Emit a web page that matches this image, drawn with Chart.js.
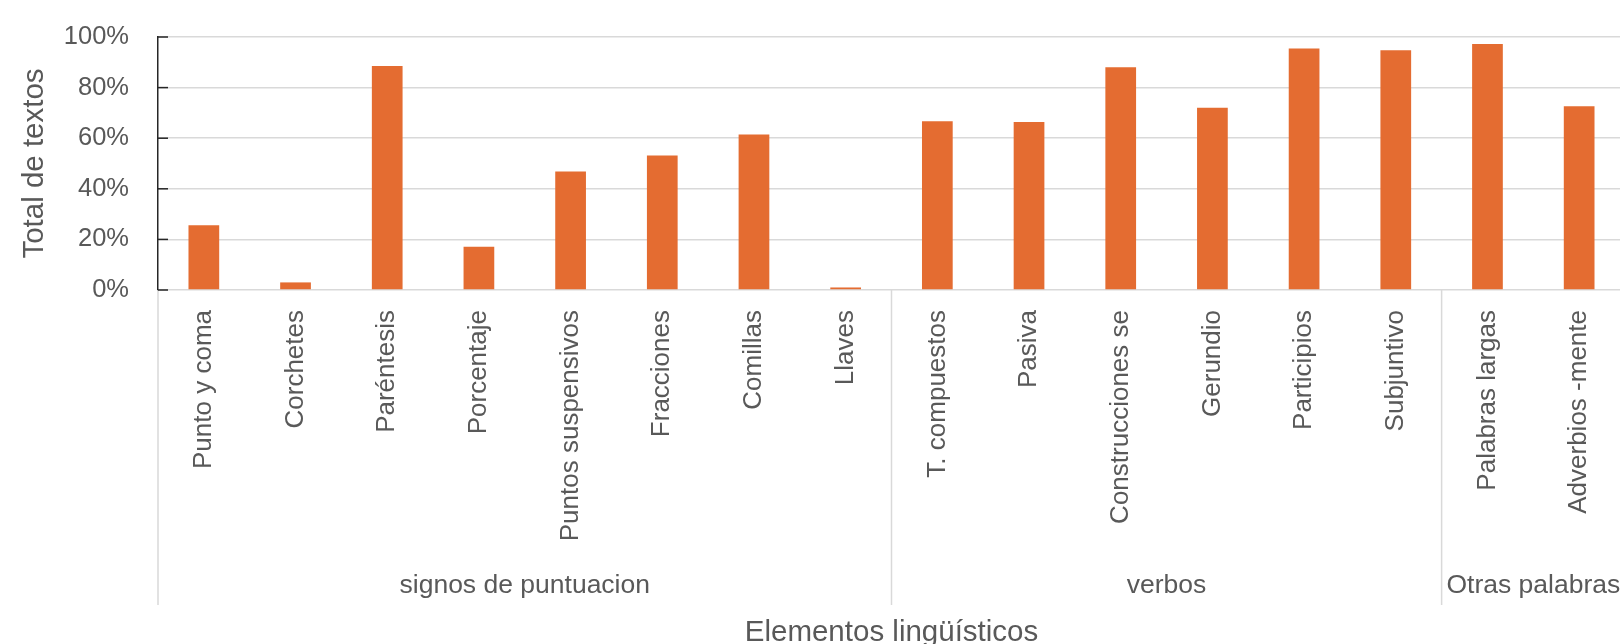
<html>
<head>
  <meta charset="utf-8"/>
  <title>Elementos lingüísticos</title>
  <script src="https://cdn.jsdelivr.net/npm/chart.js"></script>
  <style>
    html, body {
      margin: 0;
      padding: 0;
      background: #ffffff;
      width: 1620px;
      height: 644px;
      overflow: hidden;
    }
    .chart-container {
      width: 1645px;
      height: 644px;
    }
  </style>
</head>
<body>
  <div class="chart-container">
    <canvas id="mainChart" width="1645" height="644"></canvas>
  </div>

  <script>
    const categories = [
      'Punto y coma', 'Corchetes', 'Paréntesis', 'Porcentaje', 'Puntos suspensivos',
      'Fracciones', 'Comillas', 'Llaves',
      'T. compuestos', 'Pasiva', 'Construcciones se', 'Gerundio', 'Participios', 'Subjuntivo',
      'Palabras largas', 'Adverbios -mente'
    ];
    const values = [25.6, 3.0, 88.5, 17.1, 46.8, 53.2, 61.5, 1.0, 66.7, 66.4, 88.0, 72.0, 95.5, 94.8, 97.2, 72.6];
    const groupNames = ['signos de puntuacion', 'verbos', 'Otras palabras'];
    const groupSizes = [8, 6, 2];
    const yTicks = [0, 20, 40, 60, 80, 100];

    const textColor = '#595959';
    const fontFamily = '"Liberation Sans", Arial, sans-serif';

    // group separators + group names under the category labels, inner ticks on y axis
    const groupPlugin = {
      id: 'groupPlugin',
      afterDraw(chart) {
        const ctx = chart.ctx;
        const x = chart.scales.x;
        const y = chart.scales.y;
        const base = chart.chartArea.bottom;
        ctx.save();
        ctx.strokeStyle = '#d9d9d9';
        ctx.lineWidth = 1.5;
        let start = 0;
        const edges = [x.left];
        groupSizes.forEach(n => {
          const end = start + n;
          const px = end < categories.length
            ? (x.getPixelForValue(end - 1) + x.getPixelForValue(end)) / 2
            : x.right;
          edges.push(px);
          start = end;
        });
        edges.forEach(px => {
          ctx.beginPath();
          ctx.moveTo(px, base);
          ctx.lineTo(px, 605);
          ctx.stroke();
        });
        ctx.fillStyle = textColor;
        ctx.font = '26.5px ' + fontFamily;
        ctx.textAlign = 'center';
        ctx.textBaseline = 'middle';
        groupNames.forEach((g, i) => {
          ctx.fillText(g, (edges[i] + edges[i + 1]) / 2, 586);
        });
        // short inner tick marks on the y axis
        ctx.strokeStyle = '#262626';
        ctx.lineWidth = 1.5;
        yTicks.forEach(v => {
          const py = y.getPixelForValue(v);
          ctx.beginPath();
          ctx.moveTo(x.left, py);
          ctx.lineTo(x.left + 10, py);
          ctx.stroke();
        });
        ctx.restore();
      }
    };

    window.addEventListener("DOMContentLoaded", () => {
      const c1 = document.getElementById("mainChart").getContext("2d");
      new Chart(c1, {
        type: 'bar',
        data: {
          labels: categories,
          datasets: [{
            label: 'Total de textos',
            data: values,
            backgroundColor: '#E46C31',
            borderWidth: 0,
            categoryPercentage: 1.0,
            barPercentage: 0.335
          }]
        },
        options: {
          responsive: false,
          animation: false,
          layout: { padding: { top: 37, right: 20, left: 0, bottom: 0 } },
          plugins: {
            legend: { display: false },
            tooltip: { enabled: false }
          },
          scales: {
            x: {
              grid: { display: false, drawTicks: false },
              border: { display: false },
              ticks: {
                autoSkip: false,
                minRotation: 90,
                maxRotation: 90,
                padding: 20,
                color: textColor,
                font: { family: fontFamily, size: 26 }
              },
              title: {
                display: true,
                text: 'Elementos lingüísticos',
                color: textColor,
                font: { family: fontFamily, size: 29.5, lineHeight: 0.75 },
                padding: { top: 0, bottom: 0 }
              },
              afterFit: (scale) => { scale.height = 354; }
            },
            y: {
              min: 0,
              max: 100,
              afterBuildTicks: (scale) => { scale.ticks = yTicks.map(v => ({ value: v })); },
              grid: {
                color: '#d9d9d9',
                lineWidth: 1.5,
                drawTicks: true,
                tickLength: 29,
                tickColor: 'rgba(0,0,0,0)'
              },
              border: { display: true, color: '#262626', width: 1.5 },
              ticks: {
                padding: 0,
                color: textColor,
                font: { family: fontFamily, size: 25.5 },
                callback: (v) => v + '%'
              },
              title: {
                display: true,
                text: 'Total de textos',
                color: textColor,
                font: { family: fontFamily, size: 29.5 },
                padding: { top: 17, bottom: 0 }
              },
              afterFit: (scale) => { scale.width = 158; }
            }
          }
        },
        plugins: [groupPlugin]
      });
    });
  </script>
</body>
</html>
